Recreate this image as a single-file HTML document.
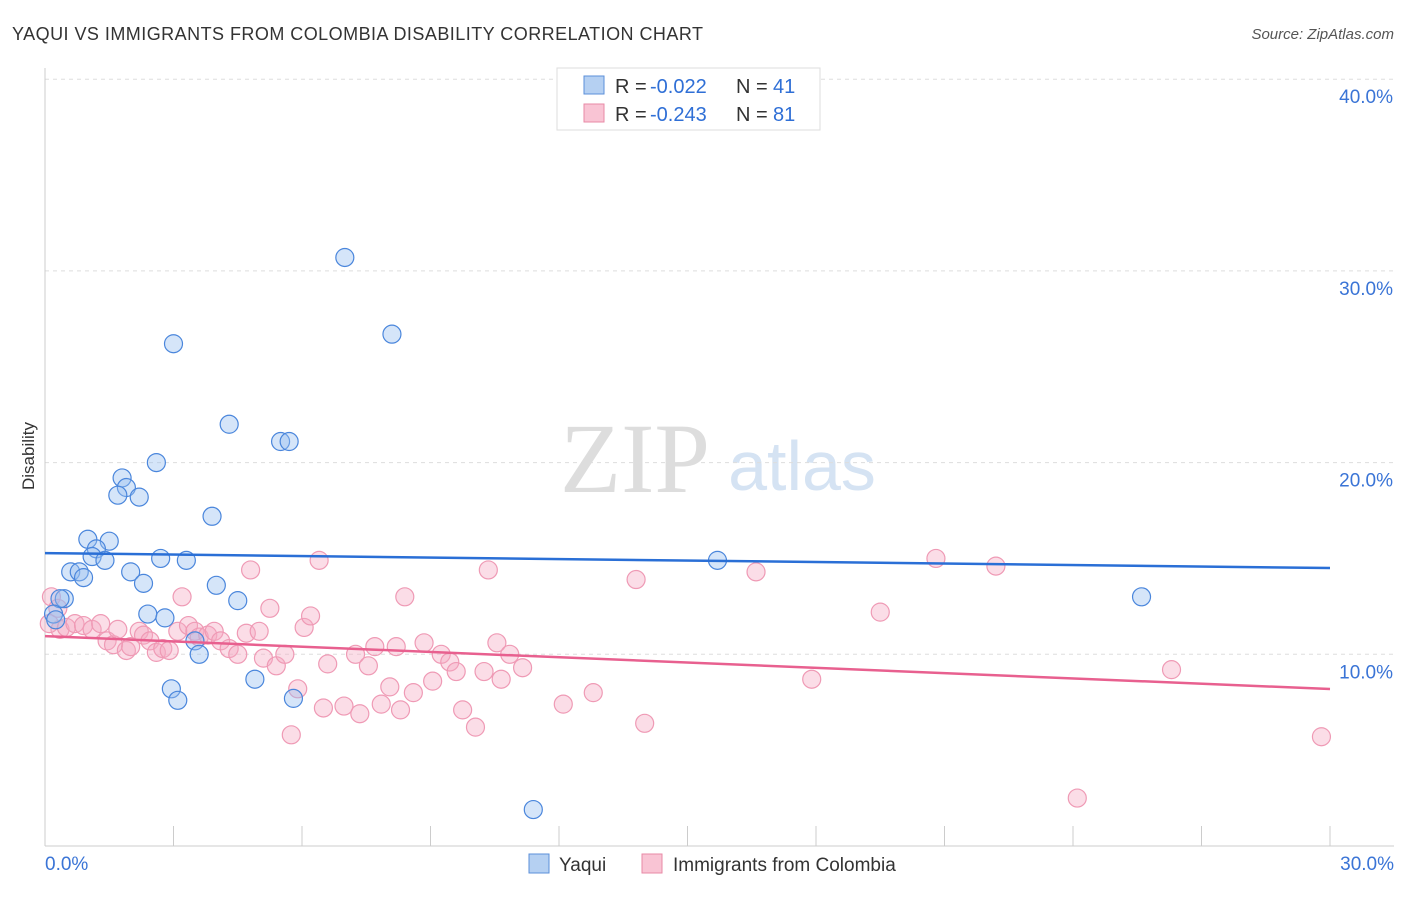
<!DOCTYPE html>
<html><head><meta charset="utf-8"><style>
body{margin:0;background:#fff;font-family:"Liberation Sans",sans-serif}
</style></head><body>
<svg width="1406" height="892" viewBox="0 0 1406 892" font-family="Liberation Sans, sans-serif">
<text x="12" y="40" font-size="18" fill="#333" textLength="691">YAQUI VS IMMIGRANTS FROM COLOMBIA DISABILITY CORRELATION CHART</text>
<text x="1394" y="39" font-size="15" fill="#555" text-anchor="end" font-style="italic">Source: ZipAtlas.com</text>
<text x="34" y="456" font-size="17" fill="#333" text-anchor="middle" transform="rotate(-90 34 456)">Disability</text>
<g><text x="635" y="492" font-size="100" fill="#ddd" text-anchor="middle" style="font-family:'Liberation Serif',serif">ZIP</text><text x="802" y="490" font-size="70" fill="#d5e3f3" text-anchor="middle">atlas</text></g>
<g id="grid"></g><g id="axes"></g><g id="pts"></g><g id="lines"></g>
<g>
<rect x="557" y="68" width="263" height="62" fill="#fff" stroke="#ddd"/>
<rect x="584" y="76" width="20" height="18" fill="#b5d0f2" stroke="#5b8fd9"/>
<rect x="584" y="104" width="20" height="18" fill="#f9c4d4" stroke="#e88aa6"/>
<text x="615" y="93" font-size="20" fill="#333">R =</text><text x="650" y="93" font-size="20" fill="#2f6fd6">-0.022</text>
<text x="736" y="93" font-size="20" fill="#333">N =</text><text x="773" y="93" font-size="20" fill="#2f6fd6">41</text>
<text x="615" y="121" font-size="20" fill="#333">R =</text><text x="650" y="121" font-size="20" fill="#2f6fd6">-0.243</text>
<text x="736" y="121" font-size="20" fill="#333">N =</text><text x="773" y="121" font-size="20" fill="#2f6fd6">81</text>
</g>
<g>
<rect x="529" y="854" width="20" height="19" fill="#b5d0f2" stroke="#5b8fd9"/>
<text x="559" y="871" font-size="19" fill="#333">Yaqui</text>
<rect x="642" y="854" width="20" height="19" fill="#f9c4d4" stroke="#e88aa6"/>
<text x="673" y="871" font-size="19" fill="#333">Immigrants from Colombia</text>
</g>
</svg>
<script>
const yTicks=[10,20,30,40];
const yTickLabels=["10.0%","20.0%","30.0%","40.0%"];
const xTickLabels=["0.0%","30.0%"];
const blueX=[7.0,8.1,3.0,4.3,5.5,5.7,2.6,1.8,1.9,1.7,2.2,3.9,1.0,1.5,1.2,1.1,1.4,2.7,3.3,0.6,0.8,2.0,0.9,2.3,4.0,0.45,0.35,4.5,2.4,2.8,0.2,0.25,3.5,3.6,4.9,2.95,3.1,5.8,11.4,15.7,25.6];
const blueY=[30.7,26.7,26.2,22.0,21.1,21.1,20.0,19.2,18.7,18.3,18.2,17.2,16.0,15.9,15.5,15.1,14.9,15.0,14.9,14.3,14.3,14.3,14.0,13.7,13.6,12.9,12.9,12.8,12.1,11.9,12.1,11.8,10.7,10.0,8.7,8.2,7.6,7.7,1.9,14.9,13.0];
const pinkX=[0.15,0.3,0.35,0.1,0.5,0.7,0.9,1.1,1.3,1.45,1.6,1.7,1.9,2.0,2.2,2.3,2.45,2.6,2.75,2.9,3.1,3.2,3.35,3.5,3.6,3.8,3.95,4.1,4.3,4.5,4.7,4.8,5.0,5.1,5.25,5.4,5.6,5.75,5.9,6.05,6.2,6.4,6.5,6.6,6.98,7.25,7.35,7.55,7.7,7.85,8.05,8.2,8.3,8.4,8.6,8.85,9.05,9.25,9.45,9.6,9.75,10.05,10.25,10.35,10.55,10.65,10.85,11.15,12.1,12.8,13.8,14.0,16.6,17.9,19.5,20.8,22.2,24.1,26.3,29.8];
const pinkY=[13.0,12.4,11.3,11.6,11.4,11.6,11.5,11.3,11.6,10.7,10.5,11.3,10.2,10.4,11.2,11.0,10.7,10.1,10.3,10.2,11.2,13.0,11.5,11.2,10.9,11.0,11.2,10.7,10.3,10.0,11.1,14.4,11.2,9.8,12.4,9.4,10.0,5.8,8.2,11.4,12.0,14.9,7.2,9.5,7.3,10.0,6.9,9.4,10.4,7.4,8.3,10.4,7.1,13.0,8.0,10.6,8.6,10.0,9.6,9.1,7.1,6.2,9.1,14.4,10.6,8.7,10.0,9.3,7.4,8.0,13.9,6.4,14.3,8.7,12.2,15.0,14.6,2.5,9.2,5.7];
const blueTrend=[15.28,14.5];
const pinkTrend=[10.95,8.19];
const NS="http://www.w3.org/2000/svg";
const X0=45,X1=1330,Y0=846,PPY=19.17;
const sx=v=>X0+(X1-X0)*v/30, sy=v=>Y0-v*PPY;
function mk(t,a,p){const e=document.createElementNS(NS,t);for(const k in a)e.setAttribute(k,a[k]);document.getElementById(p).appendChild(e);return e;}
yTicks.forEach((t,i)=>{
 const g=mk('line',{x1:X0,x2:1394,y1:sy(t),y2:sy(t),stroke:'#ddd','stroke-dasharray':'4,4'},'grid');
 
 
 const l=mk('text',{x:1393,y:sy(t)+24,'font-size':19,fill:'#3a74d6','text-anchor':'end'},'grid');
 l.textContent=yTickLabels[i];
 
 
});
const ax=mk('line',{x1:X0,x2:X0,y1:68,y2:846,stroke:'#ccc'},'axes');


const bx=mk('line',{x1:X0,x2:1394,y1:846,y2:846,stroke:'#ccc'},'axes');


for(let i=1;i<=10;i++){const tk=mk('line',{x1:sx(i*3),x2:sx(i*3),y1:826,y2:846,stroke:'#ccc'},'axes');
 
 }
[[X0,'start',0],[1394,'end',1]].forEach(([x,a,i])=>{const t=mk('text',{x:x,y:870,'font-size':19,fill:'#3a74d6','text-anchor':a},'axes');t.textContent=xTickLabels[i];
 
 });
pinkX.forEach((v,i)=>{const c=mk('circle',{cx:sx(v),cy:sy(pinkY[i]),r:9,fill:'rgba(246,170,194,0.4)',stroke:'#ef9ab5','stroke-width':1.2},'pts');
 
 });
blueX.forEach((v,i)=>{const c=mk('circle',{cx:sx(v),cy:sy(blueY[i]),r:9,fill:'rgba(150,190,240,0.4)',stroke:'#4a86dc','stroke-width':1.2},'pts');
 
 });
const bl=mk('line',{x1:sx(0),x2:sx(30),y1:sy(blueTrend[0]),y2:sy(blueTrend[1]),stroke:'#2a6fd6','stroke-width':2.5},'lines');


const pl=mk('line',{x1:sx(0),x2:sx(30),y1:sy(pinkTrend[0]),y2:sy(pinkTrend[1]),stroke:'#e8608f','stroke-width':2.5},'lines');


</script>
</body></html>
